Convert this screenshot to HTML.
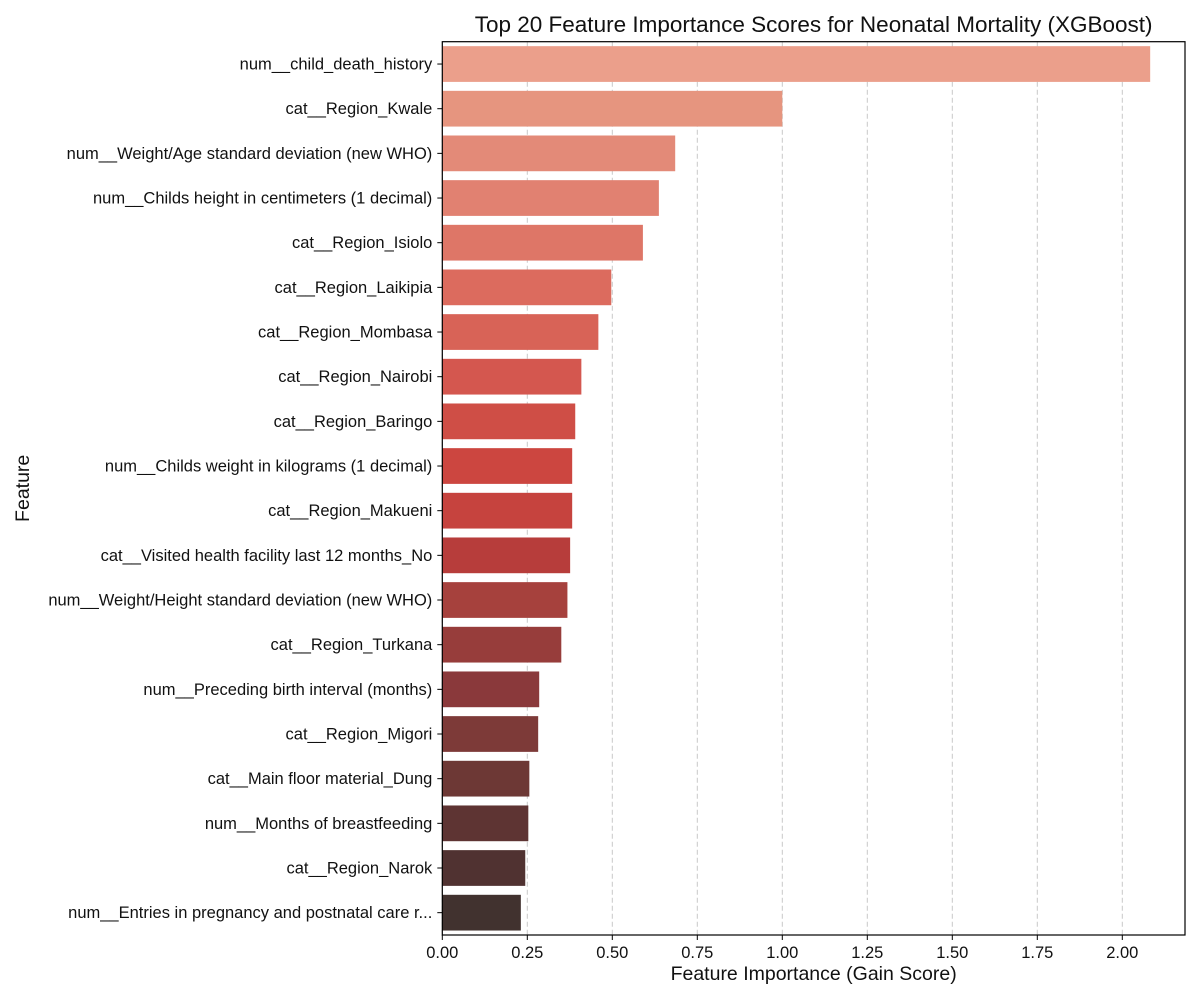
<!DOCTYPE html>
<html><head><meta charset="utf-8"><style>
body{margin:0;background:#fff;font-family:"Liberation Sans",sans-serif;}
svg text{font-family:"Liberation Sans",sans-serif;fill:#111;}
</style></head><body>
<svg id="chart" width="1200" height="1000"></svg>
<script>
const categories=["num__child_death_history","cat__Region_Kwale","num__Weight/Age standard deviation (new WHO)","num__Childs height in centimeters (1 decimal)","cat__Region_Isiolo","cat__Region_Laikipia","cat__Region_Mombasa","cat__Region_Nairobi","cat__Region_Baringo","num__Childs weight in kilograms (1 decimal)","cat__Region_Makueni","cat__Visited health facility last 12 months_No","num__Weight/Height standard deviation (new WHO)","cat__Region_Turkana","num__Preceding birth interval (months)","cat__Region_Migori","cat__Main floor material_Dung","num__Months of breastfeeding","cat__Region_Narok","num__Entries in pregnancy and postnatal care r..."];
const values=[2.082,1.000,0.685,0.637,0.590,0.497,0.459,0.409,0.391,0.382,0.382,0.376,0.368,0.350,0.285,0.282,0.256,0.253,0.244,0.231];
const tickValues=[0,0.25,0.5,0.75,1.0,1.25,1.5,1.75,2.0];
const tickLabels=["0.00","0.25","0.50","0.75","1.00","1.25","1.50","1.75","2.00"];
const colors=["#eb9f8b","#e6957f","#e38a78","#e18171","#de7667","#dc6b5e","#d86357","#d4574f","#cf4e46","#cc4640","#c6433e","#b73d3b","#a6413d","#973d3b","#8a393b","#7d3a38","#6d3835","#5e3433","#503231","#41322f"];
const NS="http://www.w3.org/2000/svg";
const svg=document.getElementById('chart');
const L=442.3,R=1185,T=41.7,B=935;
const xs=v=>L+v*340;
const band=(B-T)/categories.length;
function mk(tag,attrs,parent){const e=document.createElementNS(NS,tag);for(const k in attrs)e.setAttribute(k,attrs[k]);(parent||svg).appendChild(e);return e;}
tickValues.forEach((v,i)=>{
 const g=mk('line',{x1:xs(v),x2:xs(v),y1:T,y2:B,stroke:'#c8c8c8','stroke-dasharray':'5,3','stroke-width':1});
 
 
});
categories.forEach((c,i)=>{
 const cy=T+band*(i+0.5);
 const r=mk('rect',{x:L,y:cy-band*0.4,width:xs(values[i])-L,height:band*0.8,fill:colors[i]});
 
 
 mk('line',{x1:L-5,x2:L,y1:cy,y2:cy,stroke:'#000','stroke-width':1});
 const t=mk('text',{x:L-10,y:cy+5.5,'text-anchor':'end','font-size':16.5});
 t.textContent=c;
 
 
});
tickValues.forEach((v,i)=>{
 mk('line',{x1:xs(v),x2:xs(v),y1:B,y2:B+5,stroke:'#000','stroke-width':1});
 const t=mk('text',{x:xs(v),y:B+23,'text-anchor':'middle','font-size':16.5});
 t.textContent=tickLabels[i];
 
 
});
const fr=mk('rect',{x:L,y:T,width:R-L,height:B-T,fill:'none',stroke:'#000','stroke-width':1.2});


const ti=mk('text',{x:(L+R)/2,y:32,'text-anchor':'middle','font-size':22.5});
ti.textContent="Top 20 Feature Importance Scores for Neonatal Mortality (XGBoost)";


const xt=mk('text',{x:(L+R)/2,y:980,'text-anchor':'middle','font-size':19.5});
xt.textContent="Feature Importance (Gain Score)";


const yt=mk('text',{x:29,y:(T+B)/2,'text-anchor':'middle','font-size':19.5,transform:`rotate(-90 29 ${(T+B)/2})`});
yt.textContent="Feature";


</script>
</body></html>
